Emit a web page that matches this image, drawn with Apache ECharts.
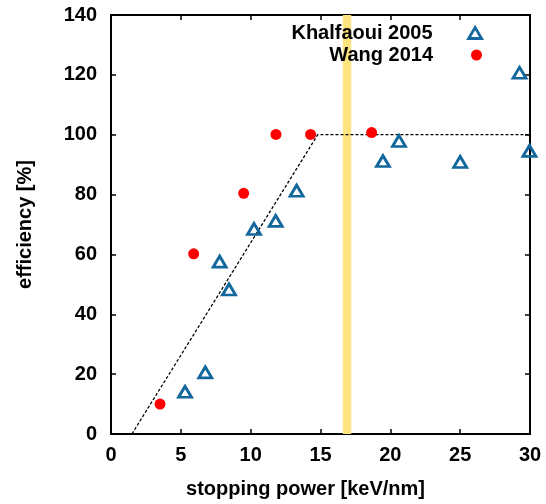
<!DOCTYPE html>
<html>
<head>
<meta charset="utf-8">
<script src="https://cdn.jsdelivr.net/npm/echarts@6/dist/echarts.min.js"></script>
<style>html,body{margin:0;padding:0;background:#fff;}#c{width:546px;height:504px;}</style>
</head>
<body>
<div id="c"></div>
<script>
const khalfaouiX = [5.30, 6.75, 7.78, 8.45, 10.24, 11.79, 13.29, 19.47, 20.62, 25.0, 29.25, 29.96];
const khalfaouiY = [14.1, 20.6, 57.6, 48.3, 68.5, 71.2, 81.3, 91.2, 97.9, 90.9, 120.7, 94.6];
const wangX = [3.51, 5.92, 9.5, 11.81, 14.29, 18.66];
const wangY = [10.0, 60.2, 80.4, 100.1, 100.1, 100.7];
const fitX = [1.5, 14.8, 30];
const fitY = [0, 100, 100];
const bandX = [16.6, 17.2];
const xTicks = [0, 5, 10, 15, 20, 25, 30];
const yTicks = [0, 20, 40, 60, 80, 100, 120, 140];

const FONT = 'Liberation Sans';
const blue = '#12679c';
const red = '#ff0000';

const chart = echarts.init(document.getElementById('c'));
const zip = (a, b) => a.map((v, i) => [v, b[i]]);
const axisCommon = {
  type: 'value',
  splitLine: {show: false},
  axisLine: {show: true, onZero: false, lineStyle: {color: '#000', width: 2}},
  axisTick: {show: true, inside: true, length: 5, lineStyle: {color: '#000', width: 1.5}},
};
chart.setOption({
  animation: false,
  backgroundColor: '#fff',
  grid: {left: 111, right: 16, top: 15, bottom: 70},
  legend: [
    {data: [{name: 'Khalfaoui 2005', icon: 'triangle', itemStyle: {color: 'rgba(0,0,0,0)', borderColor: blue, borderWidth: 2.8, opacity: 1}}],
     right: 58, top: 18, align: 'right', itemWidth: 13, itemHeight: 11,
     textStyle: {fontFamily: FONT, fontWeight: 'bold', fontSize: 20, color: '#000', padding: [4, 31, 0, 0]}},
    {data: [{name: 'Wang 2014', icon: 'circle', itemStyle: {color: red, opacity: 1}}],
     right: 59, top: 40, align: 'right', itemWidth: 11, itemHeight: 11,
     textStyle: {fontFamily: FONT, fontWeight: 'bold', fontSize: 20, color: '#000', padding: [2, 33, 0, 0]}}
  ],
  xAxis: [
    Object.assign({}, axisCommon, {
      min: 0, max: 30, interval: 5, position: 'bottom',
      name: 'stopping power [keV/nm]', nameLocation: 'middle', nameGap: 45,
      nameTextStyle: {fontFamily: FONT, fontWeight: 'bold', fontSize: 20, color: '#000', padding: [0, 30, 0, 0]},
      axisLabel: {fontFamily: FONT, fontWeight: 'bold', fontSize: 20, color: '#000', margin: 11,
        formatter: v => xTicks.includes(v) ? String(v) : ''}
    }),
    Object.assign({}, axisCommon, {min: 0, max: 30, interval: 5, position: 'top', axisLabel: {show: false}})
  ],
  yAxis: [
    Object.assign({}, axisCommon, {
      min: 0, max: 140, interval: 20, position: 'left',
      name: 'efficiency [%]', nameLocation: 'middle', nameGap: 76, nameRotate: 90,
      nameTextStyle: {fontFamily: FONT, fontWeight: 'bold', fontSize: 20, color: '#000'},
      axisLabel: {fontFamily: FONT, fontWeight: 'bold', fontSize: 20, color: '#000', margin: 14,
        formatter: v => yTicks.includes(v) ? String(v) : ''}
    }),
    Object.assign({}, axisCommon, {min: 0, max: 140, interval: 20, position: 'right', axisLabel: {show: false}})
  ],
  series: [
    {
      name: 'fit', type: 'line', data: zip(fitX, fitY), symbol: 'none', silent: true,
      lineStyle: {color: '#000', width: 1.3, type: [3, 2]}, z: 1
    },
    {
      name: 'band', type: 'line', data: [], silent: true, z: 3,
      markArea: {silent: true, itemStyle: {color: '#fde47c', opacity: 1},
        data: [[{xAxis: bandX[0]}, {xAxis: bandX[1]}]]}
    },
    {
      name: 'Khalfaoui 2005', type: 'scatter', data: zip(khalfaouiX, khalfaouiY),
      symbol: 'triangle', symbolSize: [13, 11], z: 5,
      itemStyle: {color: 'rgba(0,0,0,0)', borderColor: blue, borderWidth: 2.8, opacity: 1}
    },
    {
      name: 'Wang 2014', type: 'scatter', data: zip(wangX, wangY),
      symbol: 'circle', symbolSize: 11, z: 5,
      itemStyle: {color: red, opacity: 1}
    }
  ]
});
</script>
</body>
</html>
